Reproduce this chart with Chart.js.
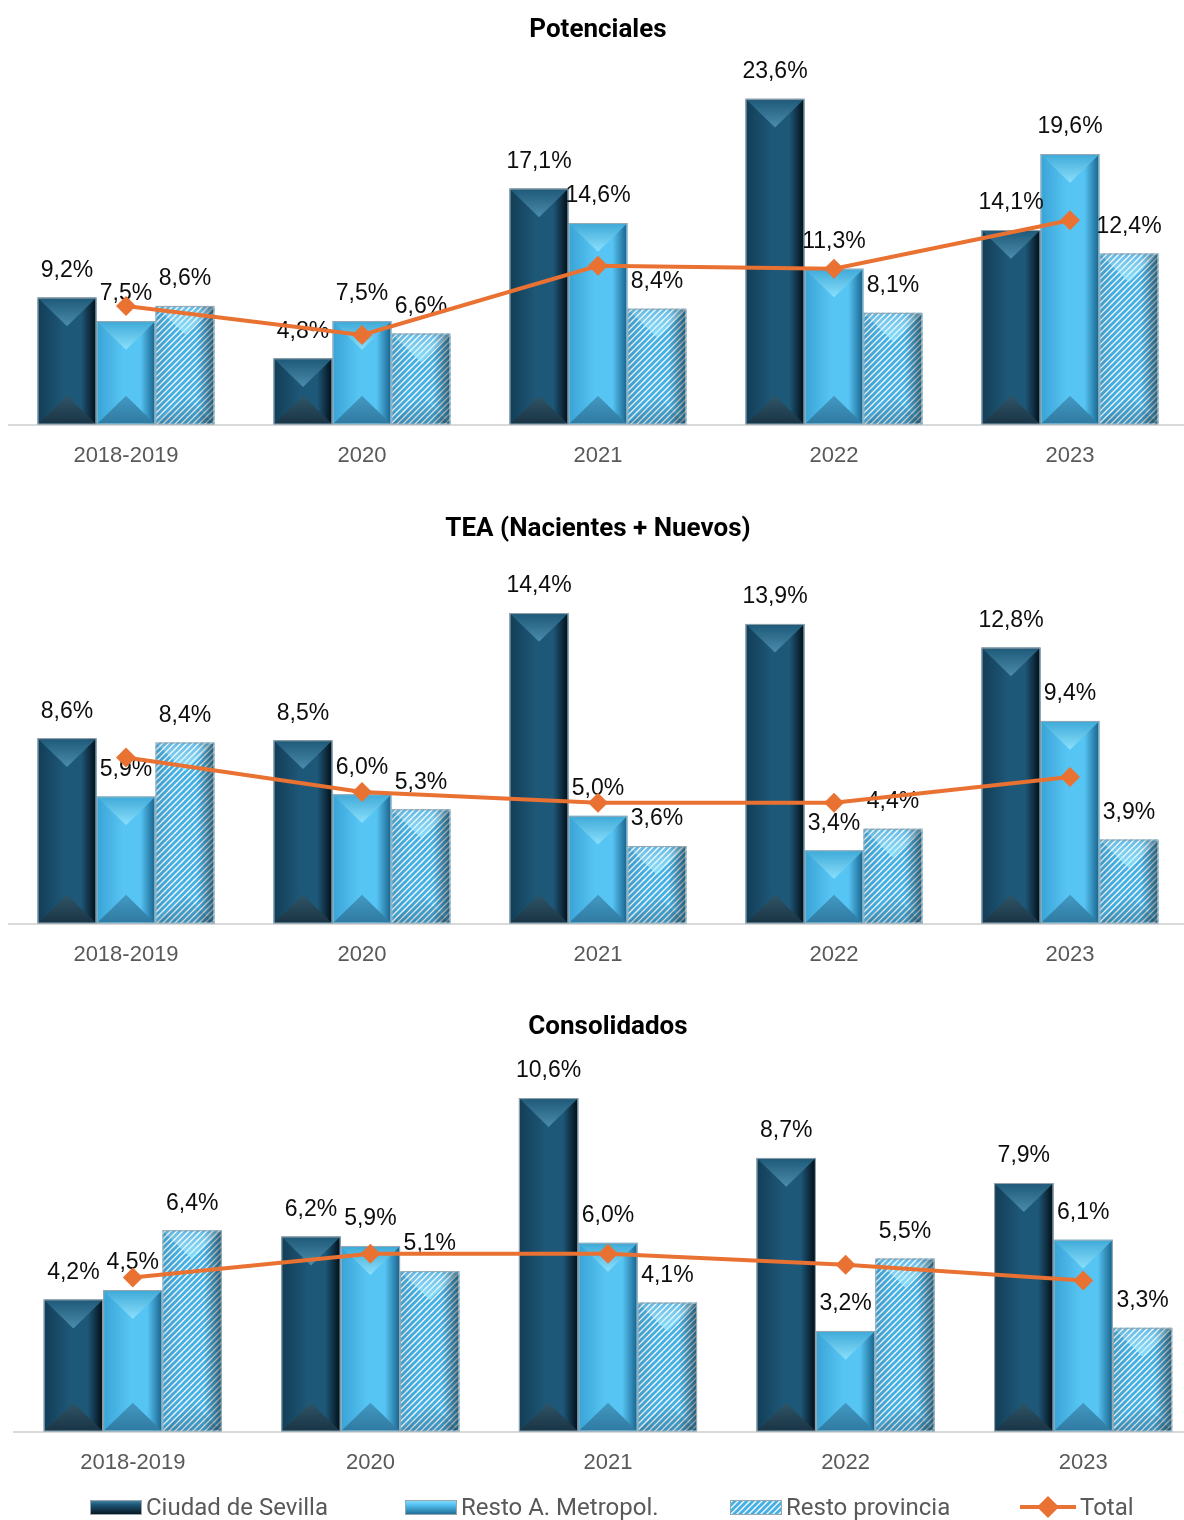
<!DOCTYPE html>
<html lang="es">
<head>
<meta charset="utf-8">
<title>Potenciales, TEA y Consolidados</title>
<script src="https://cdn.jsdelivr.net/npm/chart.js@4.4.1/dist/chart.umd.min.js"></script>
<style>
  html, body { margin: 0; padding: 0; background: #fff; overflow: hidden; }
  body { width: 1184px; height: 1520px; position: relative; }
  .panel { position: absolute; }
  .panel canvas { display: block; }
  #p1 { left: 8px; top: 0; width: 1180px; height: 499px; }
  #p2 { left: 8px; top: 499px; width: 1180px; height: 499px; }
  #p3 { left: 0; top: 997px; width: 1202px; height: 509px; }
  .legend { position: absolute; top: 1492px; left: 0; width: 1184px; height: 30px;
    font-family: 'Liberation Sans Narrow', 'Roboto', sans-serif; font-size: 24px; color: #595959; }
  .legend-item { position: absolute; top: 0; height: 30px; display: flex; align-items: center; white-space: nowrap; }
  .legend-item canvas { margin-right: 4px; }
</style>
</head>
<body>
<div class="panel" id="p1"><canvas id="chart-pot"></canvas></div>
<div class="panel" id="p2"><canvas id="chart-tea"></canvas></div>
<div class="panel" id="p3"><canvas id="chart-cons"></canvas></div>
<div class="legend" id="legend"></div>

<script>
// ========================================
// Data
// ========================================
const categories = ['2018-2019', '2020', '2021', '2022', '2023'];
const seriesNames = ['Ciudad de Sevilla', 'Resto A. Metropol.', 'Resto provincia', 'Total'];

// Potenciales
const potCiudad = [9.2, 4.8, 17.1, 23.6, 14.1];
const potResto  = [7.5, 7.5, 14.6, 11.3, 19.6];
const potProv   = [8.6, 6.6, 8.4, 8.1, 12.4];
const potTotal  = [8.6, 6.5, 11.5, 11.3, 14.8];

// TEA (Nacientes + Nuevos)
const teaCiudad = [8.6, 8.5, 14.4, 13.9, 12.8];
const teaResto  = [5.9, 6.0, 5.0, 3.4, 9.4];
const teaProv   = [8.4, 5.3, 3.6, 4.4, 3.9];
const teaTotal  = [7.7, 6.1, 5.6, 5.6, 6.8];

// Consolidados
const consCiudad = [4.2, 6.2, 10.6, 8.7, 7.9];
const consResto  = [4.5, 5.9, 6.0, 3.2, 6.1];
const consProv   = [6.4, 5.1, 4.1, 5.5, 3.3];
const consTotal  = [4.9, 5.65, 5.65, 5.3, 4.8];

const ORANGE = '#E97132';
const fmt = v => v.toFixed(1).replace('.', ',') + '%';

// hatch pattern for "Resto provincia"
function makeHatch() {
  const c = document.createElement('canvas');
  c.width = 6; c.height = 6;
  const g = c.getContext('2d');
  g.fillStyle = '#ffffff';
  g.fillRect(0, 0, 6, 6);
  g.strokeStyle = '#45b0e4';
  g.lineWidth = 3;
  g.beginPath();
  g.moveTo(-2, 8); g.lineTo(8, -2);
  g.moveTo(-5, 5); g.lineTo(5, -5);
  g.moveTo(1, 11); g.lineTo(11, 1);
  g.stroke();
  return g.createPattern(c, 'repeat');
}
const hatch = makeHatch();

const barLook = [
  { left: '#133e57', mid: '#1e5878', right: '#04101a', topA: '#1f5a79', topB: '#4c8cad', botA: '#1a3444', botB: '#2f5567' },
  { left: '#3aa4d6', mid: '#57c5f4', right: '#1b6690', topA: '#40abd9', topB: '#8be0fc', botA: '#2f7aa2', botB: '#4399c2' },
  null
];

// bevel / 3D look drawn over each bar element
const bevelPlugin = {
  id: 'bevel',
  afterDatasetDraw(chart, args) {
    const meta = args.meta;
    if (meta.type !== 'bar') return;
    const ctx = chart.ctx;
    const look = barLook[args.index];
    meta.data.forEach(el => {
      const { x, y, base, width } = el.getProps(['x', 'y', 'base', 'width'], true);
      const x0 = x - width / 2 + 1, x1 = x + width / 2 - 1;
      const top = y + 1, bottom = base - 1;
      const h = bottom - top;
      if (h <= 0) return;
      const d = Math.min(width * 0.47, h / 2);
      ctx.save();
      ctx.beginPath();
      ctx.rect(x0, top, x1 - x0, h);
      ctx.clip();

      const side = ctx.createLinearGradient(x0, 0, x1, 0);
      if (look) {
        side.addColorStop(0, look.left);
        side.addColorStop(0.45, look.mid);
        side.addColorStop(0.75, look.mid);
        side.addColorStop(1, look.right);
      } else {
        side.addColorStop(0, 'rgba(0,0,0,0.10)');
        side.addColorStop(0.3, 'rgba(0,0,0,0)');
        side.addColorStop(0.7, 'rgba(0,0,0,0)');
        side.addColorStop(1, 'rgba(0,0,0,0.45)');
      }
      ctx.fillStyle = side;
      ctx.fillRect(x0, top, x1 - x0, h);

      // top face
      const tg = ctx.createLinearGradient(0, top, 0, top + d);
      if (look) {
        tg.addColorStop(0, look.topA);
        tg.addColorStop(1, look.topB);
      } else {
        tg.addColorStop(0, 'rgba(255,255,255,0.15)');
        tg.addColorStop(1, 'rgba(150,235,255,0.75)');
      }
      ctx.fillStyle = tg;
      ctx.beginPath();
      ctx.moveTo(x0, top); ctx.lineTo(x1, top); ctx.lineTo(x, top + d); ctx.closePath();
      ctx.fill();

      // bottom face
      const bg = ctx.createLinearGradient(0, bottom, 0, bottom - d);
      if (look) {
        bg.addColorStop(0, look.botA);
        bg.addColorStop(1, look.botB);
      } else {
        bg.addColorStop(0, 'rgba(0,0,0,0.18)');
        bg.addColorStop(1, 'rgba(0,0,0,0.02)');
      }
      ctx.fillStyle = bg;
      ctx.beginPath();
      ctx.moveTo(x0, bottom); ctx.lineTo(x1, bottom); ctx.lineTo(x, bottom - d); ctx.closePath();
      ctx.fill();
      ctx.restore();

      ctx.save();
      ctx.strokeStyle = '#9aa6ad';
      ctx.lineWidth = 1;
      ctx.strokeRect(x - width / 2 + 0.5, y + 0.5, width - 1, base - y - 1);
      ctx.restore();
    });
  }
};

// value labels above bars, drawn just before the line so the line sits on top
const valueLabels = {
  id: 'valueLabels',
  beforeDatasetDraw(chart, args) {
    if (args.meta.type !== 'line') return;
    const ctx = chart.ctx;
    ctx.save();
    ctx.font = '23px "Liberation Sans", Arial, sans-serif';
    ctx.fillStyle = '#0d0d0d';
    ctx.textAlign = 'center';
    ctx.textBaseline = 'middle';
    chart.data.datasets.forEach((ds, i) => {
      const meta = chart.getDatasetMeta(i);
      if (meta.type !== 'bar') return;
      meta.data.forEach((el, j) => {
        ctx.fillText(fmt(ds.data[j]), el.x, el.y - 27);
      });
    });
    ctx.restore();
  }
};

function buildChart(id, title, ciudad, resto, prov, total, yMax, padLeft) {
  const barBase = {
    type: 'bar',
    order: 1,
    borderWidth: 0,
    barPercentage: 1,
    categoryPercentage: 0.75,
  };
  return new Chart(document.getElementById(id), {
    type: 'bar',
    data: {
      labels: categories,
      datasets: [
        { ...barBase, label: seriesNames[0], data: ciudad, backgroundColor: '#1e5878' },
        { ...barBase, label: seriesNames[1], data: resto, backgroundColor: '#57c5f4' },
        { ...barBase, label: seriesNames[2], data: prov, backgroundColor: hatch },
        {
          type: 'line',
          order: 0,
          label: seriesNames[3],
          data: total,
          borderColor: ORANGE,
          backgroundColor: ORANGE,
          borderWidth: 4,
          tension: 0,
          pointStyle: 'rectRot',
          pointRadius: 10,
          pointBorderWidth: 0,
          pointBackgroundColor: ORANGE,
          clip: false,
        }
      ]
    },
    options: {
      responsive: true,
      maintainAspectRatio: false,
      animation: false,
      layout: { autoPadding: false, padding: { left: padLeft, right: 0, top: 0, bottom: 12 } },
      plugins: {
        legend: { display: false },
        tooltip: { enabled: false },
        title: {
          display: true,
          text: title,
          color: '#000',
          font: { family: 'Roboto', size: 26, weight: 'bold' },
          padding: { top: 15, bottom: 14 }
        }
      },
      scales: {
        x: {
          grid: { display: false, drawTicks: false },
          border: { display: true, color: '#d9d9d9', width: 2 },
          ticks: {
            color: '#595959',
            padding: 18,
            maxRotation: 0,
            autoSkip: false,
            font: { family: '"Liberation Sans", Arial, sans-serif', size: 22 }
          }
        },
        y: { display: false, min: 0, max: yMax }
      }
    },
    plugins: [bevelPlugin, valueLabels]
  });
}

buildChart('chart-pot', 'Potenciales', potCiudad, potResto, potProv, potTotal, 26.4, 0);
buildChart('chart-tea', 'TEA (Nacientes + Nuevos)', teaCiudad, teaResto, teaProv, teaTotal, 16.9, 0);
buildChart('chart-cons', 'Consolidados', consCiudad, consResto, consProv, consTotal, 11.9, 14);

// ========================================
// Legend (HTML)
// ========================================
const legendLeft = [90, 405, 730, 1020];
const legendEl = document.getElementById('legend');
seriesNames.forEach((name, i) => {
  const item = document.createElement('div');
  item.className = 'legend-item';
  item.style.left = legendLeft[i] + 'px';
  const sw = document.createElement('canvas');
  const w = i === 3 ? 56 : 52, h = i === 3 ? 22 : 15;
  sw.width = w; sw.height = h;
  const g = sw.getContext('2d');
  if (i === 3) {
    g.strokeStyle = ORANGE; g.lineWidth = 4;
    g.beginPath(); g.moveTo(0, h / 2); g.lineTo(w, h / 2); g.stroke();
    g.fillStyle = ORANGE;
    g.beginPath();
    g.moveTo(w / 2, 0); g.lineTo(w / 2 + 11, h / 2); g.lineTo(w / 2, h); g.lineTo(w / 2 - 11, h / 2);
    g.closePath(); g.fill();
  } else if (i === 2) {
    g.fillStyle = hatch; g.fillRect(0, 0, w, h);
    g.strokeStyle = '#9aa6ad'; g.strokeRect(0.5, 0.5, w - 1, h - 1);
  } else {
    const look = barLook[i];
    const vg = g.createLinearGradient(0, 0, 0, h);
    vg.addColorStop(0, look.topB);
    vg.addColorStop(0.3, look.mid);
    vg.addColorStop(1, look.right);
    g.fillStyle = vg; g.fillRect(0, 0, w, h);
    g.strokeStyle = '#9aa6ad'; g.strokeRect(0.5, 0.5, w - 1, h - 1);
  }
  const txt = document.createElement('span');
  txt.textContent = name;
  item.appendChild(sw);
  item.appendChild(txt);
  legendEl.appendChild(item);
});
</script>
</body>
</html>
